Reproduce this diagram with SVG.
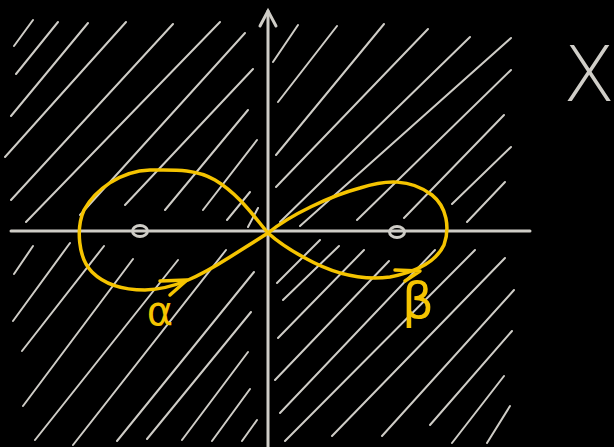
<svg xmlns="http://www.w3.org/2000/svg" width="614" height="447" viewBox="0 0 614 447">
<style>
.h{stroke:#cfcdc7;stroke-width:2;stroke-linecap:round;fill:none}
.ax{stroke:#cfcdc7;stroke-width:3;stroke-linecap:round;fill:none}
.y{stroke:#f5c400;stroke-width:3.5;stroke-linecap:round;stroke-linejoin:round;fill:none}
.gt{fill:#d0cec8;font-family:"DejaVu Sans","Liberation Sans",sans-serif;font-weight:200}
.yt{fill:#f5c400;font-family:"DejaVu Sans","Liberation Sans",sans-serif}
</style>
<rect width="614" height="447" fill="#000"/>
<g id="hatching" class="h">
<path d="M14 46L33 20M16 74L58 22M11 116L88 23M5 157L126 22M11 200L173 24M26 222L220 22M80 215L245 33M125 205L253 69M165 210L248 110M203 210L257 140M227 220L250 192M248 227L258 208"/>
<path d="M273 62L298 25M278 102L337 26M276 155L384 24M276 187L428 29M280 222L470 37M300 226L511 38M357 220L511 70M404 218L504 115M452 204L511 147M467 222L505 182"/>
<path d="M14 274L33 246M13 321L70 243M22 351L104 246M23 406L133 259M35 440L178 260M73 445L226 250M117 441L254 272M147 439L251 312M182 440L248 352M212 441L250 389M242 441L257 420"/>
<path d="M277 283L320 240M283 300L339 246M278 338L364 250M275 380L389 261M280 413L435 250M285 441L475 250M332 436L505 258M382 436L514 290M430 425L512 331M452 443L504 376M487 443L510 406"/>
</g>
<g id="axes" class="ax">
<path d="M11 231L530 231"/>
<path d="M268 447L268 11"/>
<path d="M260 26L268 11L276 26"/>
</g>
<g id="point-left"><ellipse cx="140" cy="231" rx="7.5" ry="5.5" fill="#000" class="ax"/></g>
<g id="point-right"><ellipse cx="397" cy="232" rx="7.5" ry="5.5" fill="#000" class="ax"/></g>
<g id="loop-alpha">
<path class="y" d="M268 233C255 218 240 195 215 180C195 168 170 170 150 170C120 171 95 190 84 210C76 228 78 258 92 272C105 285 125 290 145 290C175 289 200 276 230 257L268 233"/>
<path class="y" d="M160 281L187 280L170 295"/>
<text class="yt" x="160" y="325" font-size="40" text-anchor="middle">α</text>
</g>
<g id="loop-beta">
<path class="y" d="M268 233C290 215 330 196 360 188C385 180 410 178 432 195C447 207 450 228 444 245C436 262 415 272 390 277C360 281 330 272 305 258C290 250 278 242 268 233"/>
<path class="y" d="M395 270L420 271L405 281"/>
<text class="yt" x="418" y="318" font-size="50" text-anchor="middle">β</text>
</g>
<g id="label-X"><text class="gt" x="589" y="101" font-size="76" text-anchor="middle">X</text></g>
</svg>
